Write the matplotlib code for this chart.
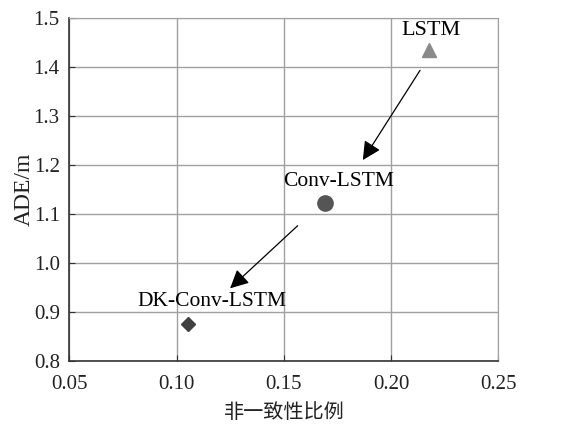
import matplotlib.pyplot as plt

plt.rcParams['font.family'] = ['Liberation Serif', 'Noto Sans CJK SC']

# model results: non-consistency ratio vs ADE
models = ["LSTM", "Conv-LSTM", "DK-Conv-LSTM"]
ratio = [0.2177, 0.169, 0.1054]
ade = [1.435, 1.122, 0.8756]
markers = ["^", "o", "D"]
colors = ["#8a8a8a", "#555555", "#404040"]
sizes = [10, 11, 7]

fig = plt.figure(figsize=(5.65, 4.25), dpi=100)
ax = fig.add_axes([0.123, 0.1506, 0.759, 0.806])

for x, y, m, c, s in zip(ratio, ade, markers, colors, sizes):
    ax.plot(x, y, marker=m, color=c, markersize=s, linestyle="none", zorder=3)

# labels above each point
ax.text(0.2186, 1.476, "LSTM", ha="center", va="center", fontsize=16)
ax.text(0.1757, 1.166, "Conv-LSTM", ha="center", va="center", fontsize=15.5)
ax.text(0.1166, 0.921, "DK-Conv-LSTM", ha="center", va="center", fontsize=15.5)

# arrows showing improvement
arrow = dict(arrowstyle="-|>", color="black", lw=0.9, mutation_scale=28,
             shrinkA=0, shrinkB=0)
ax.annotate("", xy=(0.1868, 1.2106), xytext=(0.2135, 1.394), arrowprops=arrow)
ax.annotate("", xy=(0.1249, 0.9485), xytext=(0.1564, 1.0764), arrowprops=arrow)

ax.set_xlim(0.05, 0.25)
ax.set_ylim(0.8, 1.5)
ax.set_xticks([0.05, 0.10, 0.15, 0.20, 0.25])
ax.set_xticklabels(["0.05", "0.10", "0.15", "0.20", "0.25"])
ax.set_yticks([0.8, 0.9, 1.0, 1.1, 1.2, 1.3, 1.4, 1.5])
ax.set_yticklabels(["0.8", "0.9", "1.0", "1.1", "1.2", "1.3", "1.4", "1.5"])
ax.tick_params(labelsize=15, direction="in", length=4, color="#333333",
               labelcolor="#222222")
ax.tick_params(axis="x", pad=10)
ax.tick_params(axis="y", pad=7)
ax.grid(True, color="#a0a0a0", lw=1.0)
ax.set_axisbelow(True)

for side in ["top", "right"]:
    ax.spines[side].set_color("#a0a0a0")
for side in ["left", "bottom"]:
    ax.spines[side].set_color("#333333")
    ax.spines[side].set_linewidth(1.2)

ax.set_xlabel("非一致性比例", fontsize=14.5, family=["Noto Sans CJK SC"],
              labelpad=6, color="#222222")
ax.set_ylabel("ADE/m", fontsize=17, labelpad=-1, color="#222222")

fig.savefig("out.png", dpi=100)
